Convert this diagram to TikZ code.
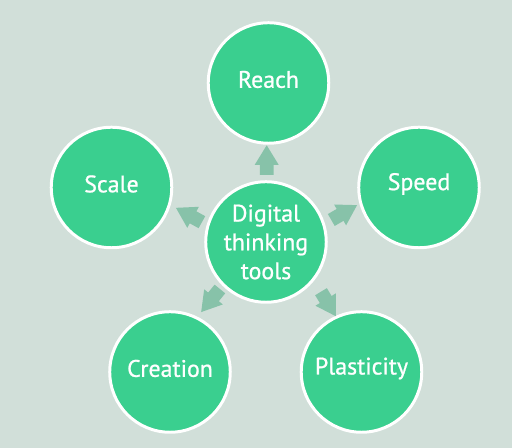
\documentclass[tikz,border=0pt]{standalone}
\usepackage{fontspec}
\setmainfont{PT Sans}
\newfontfamily\lblfont{PT Sans}[FakeBold=0.8]
\usetikzlibrary{arrows.meta}
\definecolor{bg}{HTML}{D1DFD9}
\definecolor{bub}{HTML}{3ACF8F}
\definecolor{arr}{HTML}{87C2A9}
\begin{document}
\begin{tikzpicture}[x=0.02cm,y=-0.02cm,
  bubble/.style={circle,fill=bub,draw=white,line width=1.7pt,minimum size=68.6pt,inner sep=0pt},
  lbl/.style={text=white,font=\lblfont\fontsize{13.6}{16.4}\selectfont,align=center,inner sep=0pt},
  conn/.style={draw=arr,line width=7.8pt,-{Triangle[length=11.3pt,width=12.8pt]}}]
\fill[bg] (0,0) rectangle (512,448);
\useasboundingbox (0,0) rectangle (512,448);
\node[bubble] (dig) at (266,242) {};
\node[bubble] (reach) at (268.5,83) {};
\node[bubble] (scale) at (111.5,187.5) {};
\node[bubble] (speed) at (419,187.5) {};
\node[bubble] (creat) at (170,372) {};
\node[bubble] (plast) at (361.5,372) {};
\node[lbl] (digT) at (dig.center) {Digital\\thinking\\tools};
\node[lbl] (reachT) at ([yshift=2pt]reach.center) {Reach};
\node[lbl] (scaleT) at ([yshift=2pt]scale.center) {Scale};
\node[lbl] (speedT) at ([yshift=2pt]speed.center) {Speed};
\node[lbl] (creatT) at ([yshift=2pt]creat.center) {Creation};
\node[lbl] (plastT) at ([yshift=2pt]plast.center) {Plasticity};
\draw[conn] ([shift={(0.7,-67)}]dig.center) -- ([shift={(-1.8,62)}]reach.center);
\draw[conn] ([shift={(-64.1,-19.8)}]dig.center) -- ([shift={(64.2,20.2)}]scale.center);
\draw[conn] ([shift={(65.3,-22)}]dig.center) -- ([shift={(-61.7,17.5)}]speed.center);
\draw[conn] ([shift={(-46.1,47)}]dig.center) -- ([shift={(31,-59.7)}]creat.center);
\draw[conn] ([shift={(55,49.7)}]dig.center) -- ([shift={(-25.5,-55.5)}]plast.center);
\end{tikzpicture}
\end{document}
